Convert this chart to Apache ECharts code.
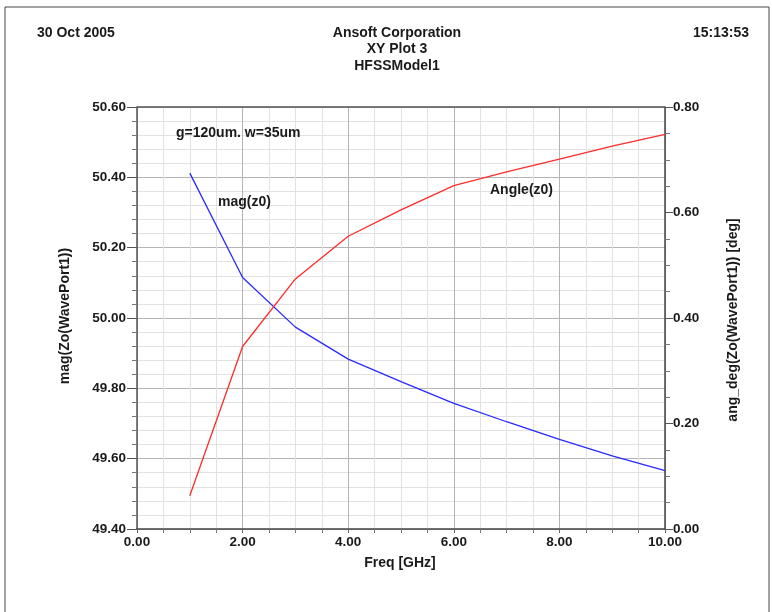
<!DOCTYPE html>
<html>
<head>
<meta charset="utf-8">
<script src="https://cdn.jsdelivr.net/npm/echarts@6/dist/echarts.min.js"></script>
<style>
  html, body { margin: 0; padding: 0; background: #fff; }
  #chart { width: 772px; height: 612px; }
</style>
</head>
<body>
<div id="chart"></div>
<script>
// Frequency sweep (GHz)
const freq = [1, 2, 3, 4, 5, 6, 7, 8, 9, 10];
// mag(Zo(WavePort1)) in ohms
const magZ0 = [50.412, 50.115, 49.974, 49.883, 49.819, 49.757, 49.705, 49.655, 49.608, 49.566];
// ang_deg(Zo(WavePort1)) in degrees
const angZ0 = [0.063, 0.346, 0.474, 0.555, 0.605, 0.651, 0.677, 0.701, 0.726, 0.748];

const headerLeft = '30 Oct 2005';
const headerRight = '15:13:53';
const titleLines = ['Ansoft Corporation', 'XY Plot 3', 'HFSSModel1'];
const noteText = 'g=120um. w=35um';
const magName = 'mag(z0)';
const angName = 'Angle(z0)';
const xTitle = 'Freq [GHz]';
const yLeftTitle = 'mag(Zo(WavePort1))';
const yRightTitle = 'ang_deg(Zo(WavePort1)) [deg]';

const FONT = '"Liberation Sans", Arial, sans-serif';
const txt = (x, y, text, align, extra) => Object.assign({
  type: 'text', x, y, z: 10,
  style: { text, fill: '#1a1a1a', font: 'bold 14px ' + FONT, textAlign: align || 'left', textVerticalAlign: 'middle' }
}, extra || {});

const chart = echarts.init(document.getElementById('chart'), null, { renderer: 'canvas' });

const axisLabelStyle = { color: '#1a1a1a', fontFamily: FONT, fontWeight: 'bold', fontSize: 13.5 };

chart.setOption({
  backgroundColor: '#fff',
  animation: false,
  grid: { left: 137, right: 107, top: 107, bottom: 83, containLabel: false },
  xAxis: {
    type: 'value', min: 0, max: 10, interval: 2,
    axisLine: { show: true, onZero: false, lineStyle: { color: '#444', width: 1.5 } },
    axisTick: { show: true, length: 4, lineStyle: { color: '#666' } },
    minorTick: { show: true, splitNumber: 4, length: 4, lineStyle: { color: '#777' } },
    axisLabel: Object.assign({ margin: 6, formatter: v => v.toFixed(2) }, axisLabelStyle),
    splitLine: { show: true, lineStyle: { color: '#b4b4b4', width: 1 } },
    minorSplitLine: { show: true, lineStyle: { color: '#e2e2e2', width: 1 } }
  },
  yAxis: [
    {
      type: 'value', min: 49.4, max: 50.6, interval: 0.2, position: 'left',
      axisLine: { show: true, lineStyle: { color: '#555', width: 1.5 } },
      axisTick: { show: true, length: 10, lineStyle: { color: '#555' } },
      minorTick: { show: true, splitNumber: 5, length: 5, lineStyle: { color: '#777' } },
      axisLabel: Object.assign({ margin: 11, formatter: v => v.toFixed(2) }, axisLabelStyle),
      splitLine: { show: true, lineStyle: { color: '#b4b4b4', width: 1 } },
      minorSplitLine: { show: true, lineStyle: { color: '#e2e2e2', width: 1 } }
    },
    {
      type: 'value', min: 0, max: 0.8, interval: 0.2, position: 'right',
      axisLine: { show: true, lineStyle: { color: '#444', width: 1.5 } },
      axisTick: { show: true, length: 8, lineStyle: { color: '#555' } },
      minorTick: { show: true, splitNumber: 4, length: 5, lineStyle: { color: '#777' } },
      axisLabel: Object.assign({ margin: 8, formatter: v => v.toFixed(2) }, axisLabelStyle),
      splitLine: { show: false }
    }
  ],
  series: [
    {
      name: magName, type: 'line', yAxisIndex: 0, symbol: 'none', z: 5,
      data: freq.map((f, i) => [f, magZ0[i]]),
      lineStyle: { color: '#2a2aff', width: 1.3 }
    },
    {
      name: angName, type: 'line', yAxisIndex: 1, symbol: 'none', z: 5,
      data: freq.map((f, i) => [f, angZ0[i]]),
      lineStyle: { color: '#ff2a2a', width: 1.3 }
    }
  ],
  graphic: [
    // page frame
    { type: 'rect', shape: { x: 5, y: 7, width: 764, height: 640 }, style: { fill: 'none', stroke: '#444', lineWidth: 1 }, silent: true },
    // top border of the plot box
    { type: 'line', shape: { x1: 137, y1: 107, x2: 665, y2: 107 }, style: { stroke: '#555', lineWidth: 1.5 }, z: 4 },
    txt(37, 33, headerLeft, 'left'),
    txt(749, 33, headerRight, 'right'),
    txt(397, 33, titleLines[0], 'center'),
    txt(397, 49, titleLines[1], 'center'),
    txt(397, 66, titleLines[2], 'center'),
    txt(176, 133, noteText, 'left'),
    txt(218, 202, magName, 'left'),
    txt(490, 190, angName, 'left'),
    txt(400, 563, xTitle, 'center'),
    txt(65, 316, yLeftTitle, 'center', { rotation: Math.PI / 2 }),
    txt(733, 320, yRightTitle, 'center', { rotation: Math.PI / 2 })
  ]
});
</script>
</body>
</html>
